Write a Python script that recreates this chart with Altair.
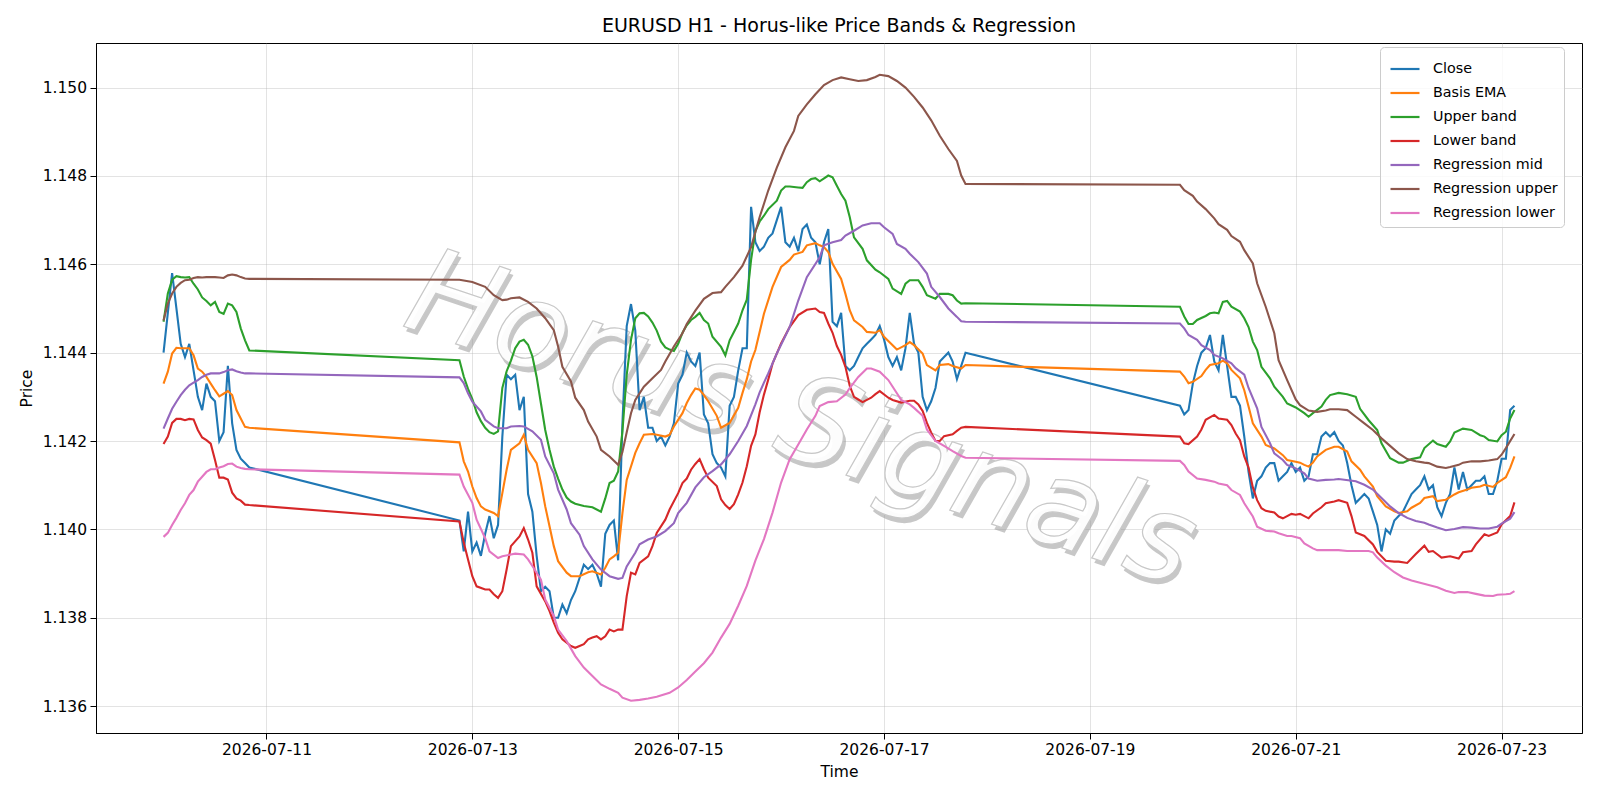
import altair as alt
import pandas as pd

# ---------------- data (hour offsets from 2026-07-10 00:00, prices) ----------------
BASE = "2026-07-10 00:00"
session_hours = [(0, 20), (69, 187), (237, 315)]

close_s1 = [1.1440, 1.1449, 1.1458, 1.1450, 1.1442, 1.1439, 1.1442, 1.1436, 1.1430, 1.1427, 1.1433,
            1.1430, 1.1429, 1.1420, 1.1422, 1.1437, 1.1424, 1.1418, 1.1416, 1.1415, 1.1414]
close_s2 = [1.1402, 1.1395, 1.1404, 1.1395, 1.1397, 1.1394, 1.1399, 1.1403, 1.1398, 1.1401,
            1.1421, 1.1435, 1.1434, 1.1435, 1.1427, 1.1430, 1.1408, 1.1404, 1.1394, 1.1386,
            1.1387, 1.1386, 1.1380, 1.1380, 1.1383, 1.1381, 1.1384, 1.1386, 1.1389, 1.1392,
            1.1391, 1.1392, 1.1390, 1.1387, 1.1399, 1.1401, 1.1402, 1.1393, 1.1424, 1.1446,
            1.1451, 1.1445, 1.1427, 1.1430, 1.1423, 1.1423, 1.1420, 1.1421, 1.1419, 1.1421,
            1.1424, 1.1433, 1.1435, 1.1440, 1.1438, 1.1437, 1.1440, 1.1426, 1.1424, 1.1417,
            1.1415, 1.1414, 1.1412, 1.1428, 1.1430, 1.1436, 1.1441, 1.1441, 1.1473, 1.1465,
            1.1463, 1.1464, 1.1466, 1.1467, 1.1470, 1.1473, 1.1465, 1.1464, 1.1466, 1.1463,
            1.1468, 1.1469, 1.1466, 1.1465, 1.1460, 1.1465, 1.1468, 1.1447, 1.1446, 1.1449,
            1.1437, 1.1436, 1.1437, 1.1439, 1.1441, 1.1442, 1.1443, 1.1444, 1.1446, 1.1443,
            1.1439, 1.1437, 1.1439, 1.1436, 1.1441, 1.1449, 1.1442, 1.1440, 1.1430, 1.1427,
            1.1429, 1.1432, 1.1438, 1.1439, 1.1440, 1.1438, 1.1434, 1.1437, 1.1440]
close_s3 = [1.1428, 1.1426, 1.1427, 1.1433, 1.1437, 1.1440, 1.1441, 1.1444, 1.1438, 1.1436,
            1.1444, 1.1437, 1.1430, 1.1430, 1.1428, 1.1421, 1.1413, 1.1407, 1.1411, 1.1412,
            1.1414, 1.1415, 1.1415, 1.1411, 1.1412, 1.1413, 1.1415, 1.1413, 1.1414, 1.1411,
            1.1412, 1.1417, 1.1417, 1.1421, 1.1422, 1.1421, 1.1422, 1.1420, 1.1419, 1.1415,
            1.1410, 1.1406, 1.1407, 1.1408, 1.1407, 1.1404, 1.1401, 1.1395, 1.1400, 1.1399,
            1.1402, 1.1403, 1.1404, 1.1406, 1.1408, 1.1409, 1.1410, 1.1412, 1.1409, 1.1410,
            1.1405, 1.1403, 1.1406, 1.1408, 1.1414, 1.1409, 1.1413, 1.1409, 1.1410, 1.1411,
            1.1411, 1.1412, 1.1408, 1.1408, 1.1411, 1.1416, 1.1416, 1.1427, 1.1428]

ema_h = list(range(0, 21)) + [
    69, 70, 71, 72, 73, 74, 75, 77, 78, 79, 80, 81, 83, 84, 85, 87, 88, 89, 90, 91, 92, 94, 95, 97, 99,
    100, 102, 103, 104, 105, 106, 107, 108, 110, 111, 112, 114, 115, 117, 118, 119, 121, 122, 123, 124,
    125, 126, 127, 129, 130, 132, 134, 135, 136, 137, 138, 140, 142, 144, 146, 147, 149, 150, 152, 153,
    154, 155, 156, 158, 159, 160, 161, 163, 164, 166, 167, 168, 170, 171, 173, 174, 175, 177, 178, 180,
    181, 183, 184, 186, 187,
    237, 238, 239, 240, 242, 243, 244, 246, 247, 248, 249, 251, 252, 253, 254, 256, 257, 259, 261, 262,
    264, 265, 266, 267, 268, 269, 271, 273, 274, 276, 277, 279, 280, 282, 283, 285, 287, 288, 290, 291,
    293, 294, 296, 297, 299, 301, 302, 304, 305, 307, 308, 310, 311, 313, 314, 315]
ema_v = [1.1433, 1.14357, 1.14398, 1.14411, 1.1441, 1.1441, 1.1441, 1.14394, 1.14364, 1.14357, 1.14345,
         1.1433, 1.14315, 1.14301, 1.14307, 1.14313, 1.14304, 1.1427, 1.14251, 1.14232, 1.1423,
         1.14197, 1.14154, 1.14131, 1.14097, 1.14071, 1.14052, 1.14045, 1.14037, 1.1403, 1.14082, 1.14135,
         1.1418, 1.14195, 1.14214, 1.1418, 1.1415, 1.14105, 1.14052, 1.14007, 1.13962, 1.13928, 1.13902,
         1.13894, 1.13894, 1.13903, 1.13905, 1.13898, 1.13913, 1.13932, 1.13939, 1.13947, 1.14037, 1.14112,
         1.14173, 1.14195, 1.14214, 1.14216, 1.14214, 1.1421, 1.14214, 1.14233, 1.14263, 1.14286, 1.14304,
         1.14319, 1.14316, 1.14304, 1.1429, 1.14257, 1.1423, 1.14241, 1.14275, 1.14309, 1.1434, 1.1438,
         1.14406, 1.14488, 1.14549, 1.14594, 1.1461, 1.14622, 1.14628, 1.14643, 1.14648, 1.14643, 1.14639,
         1.14628, 1.14601, 1.14567, 1.14533, 1.14496, 1.14473, 1.14458, 1.14447, 1.14445, 1.14451, 1.14436,
         1.14417, 1.14407, 1.14417, 1.14424, 1.14417, 1.14398, 1.14372, 1.1436, 1.14372, 1.14374, 1.1437,
         1.14364, 1.14372,
         1.14357, 1.14346, 1.14331, 1.14334, 1.14347, 1.14361, 1.14372, 1.14376, 1.14382, 1.14376, 1.14361,
         1.14342, 1.14315, 1.14278, 1.1424, 1.1421, 1.14191, 1.14183, 1.14168, 1.14157, 1.14153, 1.14151,
         1.14146, 1.14142, 1.14151, 1.14165, 1.1418, 1.14187, 1.14187, 1.14176, 1.14154, 1.14135, 1.1412,
         1.14097, 1.14075, 1.14052, 1.14041, 1.14037, 1.14041, 1.14049, 1.1406, 1.14071, 1.14075, 1.14064,
         1.14067, 1.14079, 1.14084, 1.1409, 1.14094, 1.14097, 1.14101, 1.14096, 1.14105, 1.14118, 1.14139,
         1.14165]

upper_h = list(range(0, 21)) + [
    69, 70, 71, 72, 73, 74, 75, 76, 77, 78, 79, 80, 81, 82, 83, 84, 85, 86, 87, 88, 89, 90, 91, 92, 93,
    94, 95, 96, 98, 100, 102, 103, 104, 105, 106, 107, 108, 109, 110, 111, 112, 113, 114, 115, 116, 117,
    118, 119, 120, 121, 122, 123, 124, 125, 126, 127, 128, 130, 131, 132, 133, 134, 135, 136, 137, 138,
    139, 140, 141, 143, 144, 145, 146, 148, 149, 150, 151, 152, 153, 155, 156, 157, 158, 159, 160, 161,
    163, 164, 166, 167, 169, 170, 172, 173, 174, 176, 177, 178, 180, 181, 183, 184, 185, 186, 187,
    237, 238, 239, 240, 241, 243, 244, 245, 246, 247, 248, 249, 251, 252, 253, 254, 255, 256, 258, 259,
    261, 262, 264, 266, 267, 268, 270, 271, 272, 274, 276, 278, 279, 281, 283, 284, 286, 288, 289, 291,
    293, 294, 296, 297, 299, 300, 301, 303, 305, 307, 308, 309, 311, 312, 313, 314, 315]
upper_v = [1.1447, 1.14534, 1.14565, 1.14573, 1.14571, 1.1457, 1.14571, 1.14556, 1.14543, 1.14525, 1.14517,
           1.14507, 1.14515, 1.14492, 1.14488, 1.14511, 1.14507, 1.14492, 1.14455, 1.14428, 1.14405,
           1.14383, 1.14346, 1.14318, 1.14295, 1.14265, 1.14245, 1.1423, 1.1422, 1.14216, 1.14222, 1.1432,
           1.14358, 1.14382, 1.1441, 1.14425, 1.14429, 1.14418, 1.14392, 1.14345, 1.14285, 1.14225, 1.1418,
           1.14142, 1.14115, 1.1409, 1.14072, 1.14063, 1.14058, 1.14053, 1.1405, 1.1404, 1.1407, 1.14105,
           1.1411, 1.14131, 1.14222, 1.1435, 1.14429, 1.14478, 1.14489, 1.1449, 1.14482, 1.14468, 1.1445,
           1.14425, 1.14412, 1.14407, 1.14404, 1.1442, 1.14445, 1.14462, 1.14474, 1.14481, 1.1449, 1.14474,
           1.14466, 1.14436, 1.14413, 1.14394, 1.14428, 1.14447, 1.14466, 1.14496, 1.1452, 1.1461, 1.14675,
           1.14697, 1.1471, 1.14725, 1.14744, 1.14767, 1.14776, 1.14776, 1.14774, 1.14773, 1.14786, 1.14793,
           1.14795, 1.14788, 1.14801, 1.14797, 1.14778, 1.14759, 1.14744, 1.14707, 1.14661, 1.14635,
           1.14609, 1.14588, 1.14582, 1.14567, 1.14545, 1.14533, 1.14556, 1.14564, 1.14564, 1.14549,
           1.1453, 1.14522, 1.14533, 1.14533, 1.1453, 1.14518, 1.14511, 1.14512,
           1.14504, 1.14482, 1.14465, 1.14465, 1.14474, 1.14483, 1.14489, 1.14491, 1.14489, 1.14515,
           1.14517, 1.14504, 1.14493, 1.14478, 1.14458, 1.14425, 1.14406, 1.14368, 1.14342, 1.14323, 1.143,
           1.14285, 1.14276, 1.14263, 1.14255, 1.14263, 1.14278, 1.14293, 1.14304, 1.14309, 1.14306, 1.143,
           1.14273, 1.14247, 1.14225, 1.14195, 1.14161, 1.14151, 1.14151, 1.14159, 1.14163, 1.14184,
           1.14201, 1.14193, 1.14187, 1.14199, 1.14219, 1.14228, 1.14225, 1.14213, 1.1421, 1.14202,
           1.14199, 1.14213, 1.14221, 1.14251, 1.1427]

lower_h = list(range(0, 21)) + [
    69, 70, 71, 72, 73, 75, 76, 77, 78, 79, 80, 81, 83, 84, 85, 86, 87, 89, 90, 91, 92, 93, 95, 96, 97,
    98, 99, 100, 101, 102, 103, 104, 105, 106, 107, 108, 109, 110, 111, 113, 114, 115, 117, 118, 120,
    121, 122, 123, 124, 125, 126, 127, 129, 130, 131, 132, 133, 134, 135, 136, 137, 138, 139, 140, 141,
    142, 144, 146, 148, 150, 152, 153, 154, 155, 156, 157, 158, 159, 160, 161, 162, 163, 165, 166, 167,
    169, 170, 172, 174, 175, 176, 177, 178, 179, 180, 181, 182, 184, 185, 186, 187,
    237, 238, 239, 241, 242, 243, 245, 246, 248, 249, 250, 251, 252, 253, 254, 255, 256, 257, 259, 260,
    261, 263, 264, 265, 267, 268, 270, 271, 273, 274, 276, 277, 278, 280, 282, 283, 285, 287, 288, 290,
    292, 294, 295, 296, 298, 300, 302, 303, 305, 306, 308, 309, 311, 312, 314, 315]
lower_v = [1.14193, 1.1421, 1.14241, 1.1425, 1.1425, 1.14247, 1.1425, 1.14249, 1.14225, 1.14208, 1.14202,
           1.14194, 1.14157, 1.14117, 1.14117, 1.14113, 1.14083, 1.1407, 1.14065, 1.14056, 1.14055,
           1.14018, 1.1397, 1.13932, 1.13894, 1.13871, 1.13864, 1.13864, 1.13853, 1.13845, 1.1386, 1.13909,
           1.13962, 1.13984, 1.14003, 1.13977, 1.13947, 1.13871, 1.13837, 1.13815, 1.13789, 1.13766,
           1.13751, 1.13736, 1.13732, 1.13736, 1.1374, 1.13751, 1.13755, 1.13758, 1.13751, 1.13758,
           1.13773, 1.13769, 1.13773, 1.13773, 1.13849, 1.13902, 1.13898, 1.13924, 1.13939, 1.13962,
           1.13992, 1.14022, 1.14045, 1.14082, 1.14105, 1.14115, 1.14135, 1.14148, 1.14159, 1.14136,
           1.14117, 1.14098, 1.14068, 1.14055, 1.14046, 1.14057, 1.14079, 1.14106, 1.14143, 1.14189,
           1.14215, 1.14265, 1.14305, 1.14339, 1.14375, 1.14421, 1.14458, 1.14485, 1.14497, 1.145, 1.14492,
           1.1449, 1.14466, 1.14445, 1.14415, 1.14395, 1.14368, 1.14325, 1.143, 1.14294, 1.14288, 1.14298,
           1.14306, 1.14313, 1.14298, 1.14293, 1.14287, 1.14291, 1.14291, 1.14283, 1.14268, 1.14241,
           1.14219, 1.142, 1.142, 1.14211, 1.14215, 1.14223, 1.1423, 1.14232,
           1.1421, 1.14195, 1.14193, 1.1421, 1.14226, 1.14248, 1.14259, 1.14251, 1.14248, 1.14236, 1.14217,
           1.14202, 1.14165, 1.1414, 1.14095, 1.14066, 1.14048, 1.14042, 1.14038, 1.14029, 1.14025,
           1.14035, 1.14033, 1.14035, 1.14025, 1.14036, 1.1405, 1.14059, 1.14063, 1.14066, 1.1406, 1.1403,
           1.13993, 1.13985, 1.13966, 1.13949, 1.13929, 1.13927, 1.13927, 1.13924, 1.13944, 1.13963,
           1.13949, 1.13951, 1.13936, 1.13939, 1.13934, 1.13948, 1.13951, 1.13966, 1.13989, 1.13985,
           1.13993, 1.14011, 1.1403, 1.14061]

regmid_h = list(range(0, 21)) + [
    69, 70, 71, 72, 74, 75, 77, 78, 80, 81, 83, 84, 86, 88, 89, 91, 92, 94, 95, 97, 98, 100, 102, 104,
    106, 107, 108, 110, 111, 113, 115, 117, 119, 120, 122, 124, 126, 128, 130, 132, 134, 136, 138, 139,
    140, 141, 143, 146, 148, 150, 153, 154, 156, 158, 159, 161, 163, 165, 167, 168, 170, 171, 173, 174,
    176, 178, 179, 181, 183, 185, 186, 187,
    237, 238, 239, 241, 242, 244, 245, 247, 249, 250, 252, 253, 255, 256, 258, 259, 261, 262, 264, 266,
    267, 269, 271, 273, 274, 278, 280, 282, 284, 286, 288, 290, 292, 294, 295, 297, 299, 301, 303, 305,
    307, 309, 311, 312, 314, 315]
regmid_v = [1.14228, 1.14251, 1.14273, 1.14289, 1.14304, 1.14316, 1.14326, 1.14332, 1.14338, 1.14345,
            1.1435, 1.14353, 1.14353, 1.14353, 1.14356, 1.1436, 1.14362, 1.14358, 1.14355, 1.14353, 1.14353,
            1.14344, 1.14331, 1.14308, 1.14289, 1.14267, 1.14248, 1.14233, 1.14229, 1.14229, 1.14233,
            1.14234, 1.14233, 1.14222, 1.14203, 1.14165, 1.14127, 1.1409, 1.14045, 1.14014, 1.13988,
            1.13962, 1.13932, 1.13909, 1.13894, 1.13888, 1.1389, 1.13916, 1.13947, 1.13966, 1.13977,
            1.13984, 1.13996, 1.14014, 1.14037, 1.1406, 1.14095, 1.14118, 1.14132, 1.14147, 1.1417, 1.142,
            1.14234, 1.14283, 1.1431, 1.14332, 1.14353, 1.14398, 1.14458, 1.14518, 1.14571, 1.14616,
            1.14643, 1.1465, 1.14655, 1.14665, 1.14676, 1.14688, 1.14693, 1.14693, 1.14684, 1.14669,
            1.14646, 1.14635, 1.14624, 1.14605, 1.14579, 1.14549, 1.14526, 1.145, 1.14481, 1.14471, 1.1447,
            1.14466, 1.14455, 1.1444, 1.14429, 1.14417, 1.14406, 1.14395, 1.14387, 1.14376, 1.14365, 1.1435,
            1.1432, 1.14274, 1.14232, 1.14195, 1.14172, 1.14157, 1.14146, 1.14138, 1.14127, 1.14115, 1.1411,
            1.14112, 1.14113, 1.14114, 1.14109, 1.14101, 1.1409, 1.14071, 1.14052, 1.14037, 1.14026,
            1.14019, 1.14015, 1.14011, 1.14004, 1.13998, 1.14001, 1.14005, 1.14004, 1.14002, 1.14002,
            1.14006, 1.14013, 1.14024, 1.14039]

regup_h = list(range(0, 21)) + [
    69, 72, 75, 77, 79, 80, 81, 83, 85, 87, 89, 91, 92, 93, 95, 96, 98, 99, 101, 102, 104, 106, 107,
    108, 109, 110, 112, 114, 116, 117, 119, 121, 122, 124, 126, 128, 130, 131, 133, 135, 137, 139, 141,
    143, 145, 147, 148, 150, 152, 154, 156, 158, 160, 162, 164, 166, 167, 169, 171, 173, 175, 177, 179,
    181, 183, 185, 186, 187,
    237, 238, 240, 241, 243, 245, 246, 248, 249, 251, 252, 254, 255, 257, 259, 260, 262, 264, 265, 267,
    269, 271, 272, 274, 276, 278, 280, 282, 284, 286, 288, 290, 292, 294, 295, 297, 299, 300, 302, 303,
    305, 307, 309, 311, 312, 313, 315]
regup_v = [1.14473, 1.14511, 1.14534, 1.14549, 1.14558, 1.14564, 1.14565, 1.14569, 1.14571, 1.1457,
           1.14571, 1.14571, 1.14571, 1.1457, 1.14569, 1.14575, 1.14577, 1.14575, 1.14571, 1.14568, 1.14567,
           1.14565, 1.1456, 1.14549, 1.1453, 1.14519, 1.1452, 1.14523, 1.14525, 1.14515, 1.145, 1.14478,
           1.14451, 1.14414, 1.14368, 1.14335, 1.14298, 1.1427, 1.14244, 1.1421, 1.1418, 1.14165, 1.14146,
           1.14175, 1.1422, 1.14263, 1.14293, 1.14323, 1.14342, 1.14361, 1.1438, 1.14414, 1.14444, 1.14465,
           1.14495, 1.14522, 1.14535, 1.14537, 1.14549, 1.14571, 1.14597, 1.14639, 1.14707, 1.14767,
           1.14819, 1.14865, 1.14902, 1.14936, 1.14962, 1.14985, 1.15006, 1.15017, 1.15023, 1.15019,
           1.15015, 1.15017, 1.15024, 1.15029, 1.15026, 1.15015, 1.15, 1.14979, 1.14955, 1.14926, 1.14891,
           1.14861, 1.14834, 1.14801, 1.14782,
           1.1478, 1.14768, 1.14755, 1.14742, 1.14725, 1.14704, 1.14691, 1.14678, 1.14664, 1.14651,
           1.14632, 1.14602, 1.14557, 1.14504, 1.14444, 1.14383, 1.14338, 1.14294, 1.14281, 1.14269,
           1.14266, 1.14269, 1.14272, 1.14272, 1.1427, 1.14255, 1.1424, 1.14225, 1.14206, 1.14189, 1.14172,
           1.14159, 1.14154, 1.14151, 1.1415, 1.14142, 1.14139, 1.14141, 1.14146, 1.14151, 1.14154,
           1.14154, 1.14156, 1.14159, 1.14169, 1.14184, 1.14216]

reglow_h = list(range(0, 21)) + [
    69, 70, 72, 73, 75, 76, 78, 79, 81, 82, 84, 85, 86, 88, 89, 91, 92, 94, 95, 96, 98, 100, 102, 104,
    106, 107, 109, 111, 113, 115, 118, 120, 122, 124, 126, 128, 130, 132, 134, 136, 138, 140, 142, 144,
    146, 148, 150, 152, 153, 155, 157, 159, 160, 162, 164, 165, 167, 169, 171, 172, 174, 175, 177, 178,
    180, 182, 184, 186, 187,
    237, 238, 239, 241, 243, 245, 246, 248, 249, 251, 252, 254, 255, 257, 259, 260, 262, 263, 265, 266,
    268, 269, 271, 273, 274, 276, 279, 281, 282, 283, 285, 287, 289, 291, 293, 295, 297, 299, 301, 302,
    304, 306, 308, 310, 311, 313, 314, 315]
reglow_v = [1.13983, 1.13992, 1.1401, 1.14026, 1.14044, 1.14059, 1.14078, 1.14089, 1.14108, 1.14119,
            1.1413, 1.14136, 1.14136, 1.1414, 1.14143, 1.14148, 1.14149, 1.14142, 1.14139, 1.14137, 1.14136,
            1.14124, 1.14097, 1.1406, 1.14022, 1.1398, 1.1395, 1.13935, 1.13939, 1.13943, 1.13945, 1.13943,
            1.13932, 1.13917, 1.13886, 1.13841, 1.13804, 1.13773, 1.13747, 1.1373, 1.13713, 1.13687,
            1.13668, 1.13649, 1.13639, 1.1363, 1.13619, 1.13612, 1.13614, 1.13617, 1.13621, 1.1363, 1.13642,
            1.13659, 1.13678, 1.13697, 1.13721, 1.13755, 1.13786, 1.13827, 1.13872, 1.13929, 1.13978,
            1.14038, 1.14106, 1.14159, 1.14192, 1.14226, 1.14257, 1.14279, 1.14288, 1.1429, 1.14305, 1.1432,
            1.14345, 1.14364, 1.14364, 1.14357, 1.14338, 1.14308, 1.14293, 1.14283, 1.14275, 1.14257,
            1.14226, 1.142, 1.14189, 1.14177, 1.14166, 1.14162,
            1.14155, 1.14146, 1.14131, 1.14115, 1.14112, 1.14108, 1.14104, 1.141, 1.14089, 1.14078, 1.14059,
            1.14029, 1.14006, 1.13997, 1.13995, 1.13991, 1.13985, 1.13985, 1.1398, 1.13968, 1.13957,
            1.13953, 1.13953, 1.13953, 1.13953, 1.13951, 1.13951, 1.13951, 1.13948, 1.13936, 1.13918,
            1.13903, 1.13891, 1.13884, 1.13879, 1.13874, 1.13869, 1.13861, 1.13856, 1.13858, 1.13858,
            1.13854, 1.1385, 1.13849, 1.13852, 1.13853, 1.13854, 1.1386]

series_names = ["Close", "Basis EMA", "Upper band", "Lower band",
                "Regression mid", "Regression upper", "Regression lower"]
series_colors = ["#1f77b4", "#ff7f0e", "#2ca02c", "#d62728", "#9467bd", "#8c564b", "#e377c2"]
x_tick_dates = ["2026-07-11", "2026-07-13", "2026-07-15", "2026-07-17",
                "2026-07-19", "2026-07-21", "2026-07-23"]
y_ticks = [1.136, 1.138, 1.140, 1.142, 1.144, 1.146, 1.148, 1.150]
watermark_text = "Horus Signals"

# ---------------- build long table ----------------
close_h = []
for a, b in session_hours:
    close_h += list(range(a, b + 1))
close_v = close_s1 + close_s2 + close_s3

series_data = {
    "Close": (close_h, close_v),
    "Basis EMA": (ema_h, ema_v),
    "Upper band": (upper_h, upper_v),
    "Lower band": (lower_h, lower_v),
    "Regression mid": (regmid_h, regmid_v),
    "Regression upper": (regup_h, regup_v),
    "Regression lower": (reglow_h, reglow_v),
}
base_ts = pd.Timestamp(BASE)
rows = []
for name, (hs, vs) in series_data.items():
    assert len(hs) == len(vs), (name, len(hs), len(vs))
    for h, v in zip(hs, vs):
        rows.append({"time": (base_ts + pd.Timedelta(hours=h)).strftime("%Y-%m-%dT%H:%M:%S"),
                     "value": v, "series": name})
df = pd.DataFrame(rows)


def dt(s):
    t = pd.Timestamp(s)
    return alt.DateTime(year=t.year, month=t.month, date=t.day, hours=t.hour, minutes=t.minute)


x_dom = [dt("2026-07-09 08:15"), dt("2026-07-23 18:45")]
y_dom = [1.13539, 1.15101]

W, H = 1486, 690
FONT = "DejaVu Sans"

x_enc = alt.X("time:T", title="Time",
              scale=alt.Scale(domain=x_dom, nice=False),
              axis=alt.Axis(values=[dt(d) for d in x_tick_dates], format="%Y-%m-%d",
                            labelAngle=0, titleY=38, titleBaseline="middle"))
y_enc = alt.Y("value:Q", title="Price",
              scale=alt.Scale(domain=y_dom, nice=False, zero=False),
              axis=alt.Axis(values=y_ticks, format=".3f", titleX=-70, titleY=H / 2,
                            titleBaseline="middle", titleAlign="center"))
color_enc = alt.Color("series:N",
                      scale=alt.Scale(domain=series_names, range=series_colors),
                      legend=alt.Legend(title=None, orient="none", legendX=1284, legendY=4,
                                        symbolType="stroke", symbolSize=840, symbolStrokeWidth=2.2,
                                        labelFontSize=14.3, labelFont=FONT, labelColor="black",
                                        strokeColor="#cccccc", fillColor="rgba(255,255,255,0.8)",
                                        padding=6, cornerRadius=4, rowPadding=0, labelOffset=12,
                                        symbolOffset=3, labelLimit=300))

base = alt.Chart(df).mark_line(strokeWidth=2.1).encode(x=x_enc, y=y_enc, color=color_enc)
line_layers = [base.transform_filter(alt.datum.series == s) for s in series_names]

wm_df = pd.DataFrame({"t": [watermark_text]})
WM_X, WM_Y, WM_SIZE, WM_ANGLE = 705, 379, 120, 18.6
wm_shadow = alt.Chart(wm_df).mark_text(
    font=FONT, fontStyle="italic", fontSize=WM_SIZE, angle=WM_ANGLE, align="center",
    baseline="middle", fill="#9a9a9a", opacity=0.55, dx=4, dy=4
).encode(text="t:N", x=alt.value(WM_X), y=alt.value(WM_Y))
wm_main = alt.Chart(wm_df).mark_text(
    font=FONT, fontStyle="italic", fontSize=WM_SIZE, angle=WM_ANGLE, align="center",
    baseline="middle", fill="#ffffff", fillOpacity=0.95, stroke="#c8c8c8", strokeWidth=1.2
).encode(text="t:N", x=alt.value(WM_X), y=alt.value(WM_Y))

chart = alt.layer(wm_shadow, wm_main, *line_layers).properties(
    width=W, height=H,
    title="EURUSD H1 - Horus-like Price Bands & Regression",
    padding={"left": 96, "top": 43, "right": 18, "bottom": 67},
    autosize=alt.AutoSizeParams(type="none"),
).configure_view(
    stroke="black", strokeWidth=1
).configure_axis(
    domainColor="black", domainWidth=1, tickColor="black", tickWidth=1, tickSize=6,
    labelColor="black", titleColor="black", labelFont=FONT, titleFont=FONT,
    labelFontSize=15.5, titleFontSize=15.5, titleFontWeight="normal", labelPadding=3.5,
    gridColor="#b0b0b0", gridOpacity=0.35, gridWidth=1
).configure_title(
    font=FONT, fontSize=19, fontWeight="normal", color="black", anchor="middle", offset=7
)

chart.save("out.html", embed_options={"renderer": "svg", "actions": False})
